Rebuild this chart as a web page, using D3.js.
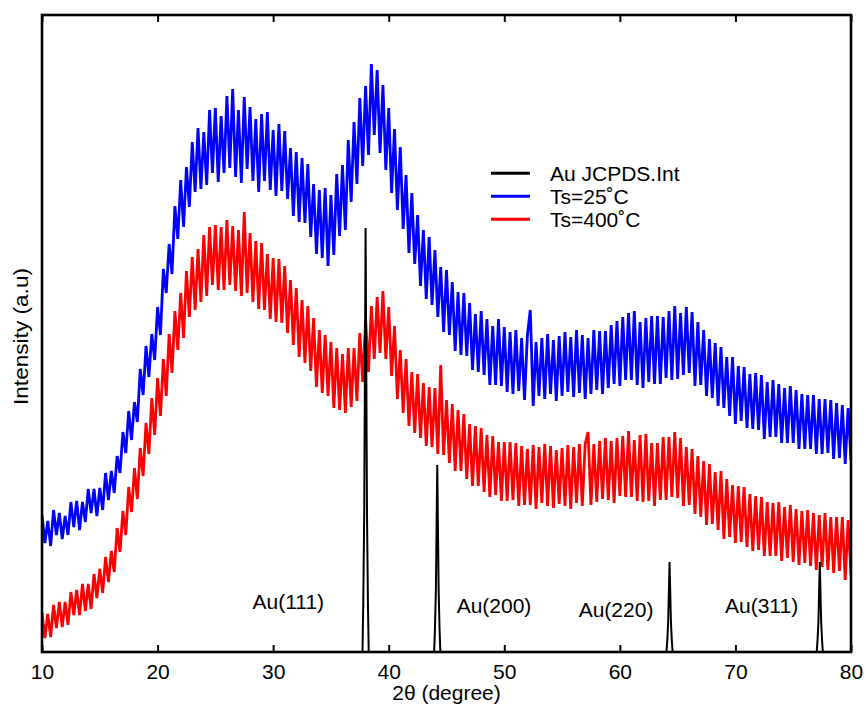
<!DOCTYPE html>
<html><head><meta charset="utf-8">
<script src="https://cdn.jsdelivr.net/npm/d3@7"></script>
<style>
body{margin:0;background:#fff}
text{font-family:"Liberation Sans",Arial,Helvetica,sans-serif;fill:#000}
</style>
</head><body>
<svg id="chart" width="866" height="711"></svg>
<script>
// ---------------- DATA ----------------
const thetaStart = 10, thetaStep = 0.25;   // 2θ sampling of the measured patterns
const blueTs25 = [
137,109,131,106, 142,117,139,113, 136,117,150,125, 151,122,150,130, 163,139,163,136,
164,142,179,152, 181,159,196,179, 220,199,241,212, 250,230,283,257, 306,275,318,292,
345,317,383,359, 408,378,446,413, 472,425,485,445, 510,460,524,463, 520,467,542,479,
544,470,536,479, 556,484,563,475, 542,469,555,483, 545,471,533,460, 538,471,540,462,
522,456,528,461, 521,453,504,436, 500,430,494,429, 488,415,468,398, 462,394,464,386,
457,397,478,416, 487,422,512,450, 530,468,554,486, 566,497,588,517, 582,499,567,482,
544,459,523,442, 505,423,477,399, 459,388,437,366, 422,353,415,347, 402,335,385,320,
382,317,370,301, 360,297,359,296, 349,282,338,280, 341,277,333,267, 326,267,333,266,
325,260,320,258, 322,261,314,252, 317,342,246,310, 256,314,253,318, 258,312,251,316,
256,320,260,315, 255,322,259,317, 253,314,258,322, 262,321,258,321, 264,327,268,331,
266,335,272,339, 272,341,267,330, 264,334,270,336, 268,336,268,335, 274,341,272,346,
273,339,277,345, 279,340,266,330, 267,322,256,313, 254,309,246,305, 244,295,236,295,
228,286,231,285, 224,278,223,279, 222,277,213,270, 215,272,215,268, 209,264,209,266,
209,262,203,258, 203,257,203,257, 198,253,198,253, 199,252,193,249, 194,247,188,244,
192];
const redTs400 = [
39,14,38,15, 47,24,50,25, 50,27,60,37, 62,37,68,41, 68,43,78,54,
83,59,95,70, 101,80,124,100, 141,117,165,140, 184,153,204,176, 229,198,254,217,
274,236,293,256, 318,279,341,302, 359,314,381,335, 395,342,403,350, 417,356,425,367,
427,362,425,362, 432,367,426,361, 422,356,440,359, 419,350,411,343, 409,342,398,333,
394,330,393,329, 386,319,372,307, 364,295,352,289, 346,281,334,265, 322,259,317,256,
310,244,304,242, 298,239,304,245, 304,251,319,270, 332,280,346,293, 355,299,361,293,
345,276,326,253, 302,239,293,226, 280,219,278,214, 269,206,265,205, 264,198,287,197,
252,189,248,181, 242,181,238,173, 228,166,226,166, 224,160,217,155, 216,157,210,151,
210,151,210,152, 209,146,206,147, 203,147,207,143, 205,149,208,146, 206,144,202,148,
204,146,207,143, 205,149,208,146, 208,220,147,208, 150,211,153,214, 152,211,149,214,
156,216,155,221, 155,212,151,217, 150,218,151,209, 146,209,152,215, 152,215,155,220,
154,214,146,205, 147,203,138,196, 135,191,127,188, 128,180,122,181, 113,173,115,167,
109,166,110,165, 105,158,101,156, 102,155,96,150, 96,149,96,150, 91,145,94,147,
90,143,87,141, 89,142,86,139, 82,137,85,139, 82,135,79,135, 81,135,72,132,
77];
const jcpdsPositions = [38.0, 44.2, 64.3, 77.3];
const jcpdsIntensities = [424, 187, 90, 90];
const jcpdsLabels = ["Au(111)", "Au(200)", "Au(220)", "Au(311)"];
const xTickValues = [10, 20, 30, 40, 50, 60, 70, 80];
const legendLabels = ["Au JCPDS.Int", "Ts=25˚C", "Ts=400˚C"];

// ---------------- LAYOUT / STYLE ----------------
const colors = {jcpds: "#000000", ts25: "#0000ff", ts400: "#ff0000"};
const L = 42, R = 851, T = 15, B = 652;
const labelAnchors = [[31.31, 42.7], [49.11, 39.3], [59.67, 35.3], [72.26, 39.3]]; // annotation anchors (2θ, intensity)
const peakShapeOffsets = [-0.27, -0.2, -0.12, -0.05, 0, 0.05, 0.12, 0.2, 0.27];
const peakShapeFractions = [0, 0.12, 0.33, 0.72, 1, 0.72, 0.33, 0.12, 0];

const svg = d3.select("#chart");
const x = d3.scaleLinear().domain([10, 80]).range([L, R]);
const y = d3.scaleLinear().domain([0, 637]).range([B, T]);

svg.append("defs").append("clipPath").attr("id", "plotclip")
  .append("rect").attr("x", L).attr("y", T).attr("width", R - L).attr("height", B - T);

const plot = svg.append("g").attr("clip-path", "url(#plotclip)");
const line = d3.line().x(d => x(d[0])).y(d => y(d[1]));

function series(vals) { return vals.map((v, i) => [thetaStart + i * thetaStep, v]); }

plot.append("path").datum(series(blueTs25))
  .attr("d", line).attr("fill", "none").attr("stroke", colors.ts25)
  .attr("stroke-width", 2.8).attr("stroke-linejoin", "miter");
plot.append("path").datum(series(redTs400))
  .attr("d", line).attr("fill", "none").attr("stroke", colors.ts400)
  .attr("stroke-width", 2.8).attr("stroke-linejoin", "miter");

// JCPDS reference peaks
jcpdsPositions.forEach((p, i) => {
  const pts = peakShapeOffsets.map((o, k) => [p + o, jcpdsIntensities[i] * peakShapeFractions[k]]);
  plot.append("path").datum(pts).attr("d", line)
    .attr("fill", "none").attr("stroke", colors.jcpds).attr("stroke-width", 2);
});

// annotation labels
jcpdsLabels.forEach((t, i) => {
  svg.append("text").attr("x", x(labelAnchors[i][0])).attr("y", y(labelAnchors[i][1]))
    .attr("text-anchor", "middle").attr("font-size", 21).text(t);
});

// axes
const bottomAxis = svg.append("g").attr("transform", `translate(0,${B})`)
  .call(d3.axisBottom(x).tickValues(xTickValues).tickFormat(d3.format("d"))
    .tickSizeInner(-7).tickSizeOuter(0).tickPadding(12));
bottomAxis.select(".domain").remove();
bottomAxis.selectAll("line").attr("stroke", "#000").attr("stroke-width", 2);
bottomAxis.selectAll("text").attr("font-size", 21).attr("font-family", "Liberation Sans, Arial, sans-serif");

const topAxis = svg.append("g").attr("transform", `translate(0,${T})`)
  .call(d3.axisTop(x).tickValues(xTickValues).tickFormat("")
    .tickSizeInner(-7).tickSizeOuter(0));
topAxis.select(".domain").remove();
topAxis.selectAll("line").attr("stroke", "#000").attr("stroke-width", 2);

// frame
svg.append("rect").attr("x", L).attr("y", T).attr("width", R - L).attr("height", B - T)
  .attr("fill", "none").attr("stroke", "#000").attr("stroke-width", 2.6);

// axis titles
svg.append("text").attr("x", (L + R) / 2).attr("y", 700).attr("text-anchor", "middle")
  .attr("font-size", 21).text("2θ (degree)");
svg.append("text").attr("transform", `translate(28,${(T + B) / 2 + 3}) rotate(-90)`)
  .attr("text-anchor", "middle").attr("font-size", 21)
  .attr("textLength", 137).attr("lengthAdjust", "spacingAndGlyphs").text("Intensity (a.u)");

// legend
const legendColors = [colors.jcpds, colors.ts25, colors.ts400];
const lg = svg.append("g");
legendLabels.forEach((t, i) => {
  const ly = 173.3 + i * 23;
  lg.append("line").attr("x1", 491).attr("x2", 530).attr("y1", ly).attr("y2", ly)
    .attr("stroke", legendColors[i]).attr("stroke-width", 3);
  lg.append("text").attr("x", 550).attr("y", ly + 8).attr("font-size", 21).text(t);
});
</script>
</body></html>
